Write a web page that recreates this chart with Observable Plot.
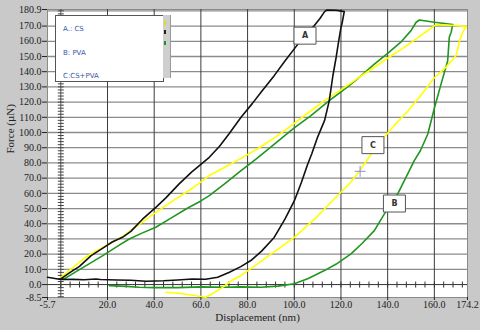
<!DOCTYPE html>
<html><head><meta charset="utf-8">
<script src="https://cdn.jsdelivr.net/npm/d3@7"></script>
<script src="https://cdn.jsdelivr.net/npm/@observablehq/plot@0.6"></script>
<style>
body{margin:0;background:#c9c9c9;}
#wrap{position:relative;width:480px;height:330px;overflow:hidden;}
#legend{position:absolute;left:55px;top:15px;width:107px;height:65px;background:#fff;border:1px solid #555;font:7px "DejaVu Sans",sans-serif;color:#3a55a8;}
#legend div{position:absolute;left:7px;}
#scroll{position:absolute;left:163px;top:15px;width:7px;height:63px;background:#cfcfcf;border-right:1px solid #999;}
#scroll span{position:absolute;left:1px;width:2px;height:4px;}
</style></head>
<body><div id="wrap"></div>
<script>
// Series A: CS (black) — loading, hold, unloading
const csDisp = [0,4,8,13,18,22,26.4,30,35,40.7,45,50.7,56,60,63.6,68,72,77.2,82,86,91.4,96,100,104,108.6,111,113,114,118,121.4,
  120.5,120,119,118,116.5,115,113,110,107.5,105.7,103,100,96,91.4,86,81.4,77.1,72,67.2,62,56.4,50,44,36.4,30,24,17,15,10,5,0,-5.7];
const csForce = [3.7,8,12,19,24,28,31.1,35,43,50.8,57,66.2,74,79,83.7,91,99,110,119,127,137.4,147,155,163,170.3,175,179.5,180.6,180.4,179.5,
  172,169,160,150,137,121,108,97,86,79,67,55,43,31,22,15.8,11.8,8,4.8,3.5,3.7,3,2.5,2.2,2.8,3,3.3,3.7,3.2,3.4,3.3,4.8];

// Series B: PVA (green)
const pvaDisp = [1.4,6,12.1,18,24,29.3,35,40.7,47,54,60,63.6,70,77.2,84,92,100,107,115,122,128,134.3,140,146,150,152.2,153.6,160,167.9,
  167.2,166.4,165.7,162.9,160,157.2,154,151.4,148,144.3,141,138.6,134.3,129,124.3,118,112.9,106,100,93,85.7,77.2,70,60,50,40,33.6,28,20.7];
const pvaForce = [3.7,8,13.6,19,25,30,34,37.7,43.5,50,55,58.5,66,75,83,93,103,111,121,129,136.5,145,152,160,167,172.5,174,172.5,171,
  166,162.6,147,132,116,99,88,81.5,71,59.6,52,46.5,35.5,27,20.2,13.5,9.2,4,0.5,-1,-1.8,-1.5,-1.8,-1.5,-2,-2,-1.8,-1.2,-0.7];

// Series C: CS+PVA (yellow)
const mixDisp = [0,5,10.7,15,20,26.4,33,40.7,48,56,63.6,70,77.2,85,92,100,106,112.9,120,127,134.3,141,148,154,160.7,167,173.6,
  172.2,171,169.3,165,160,154,148.6,143,138.6,133,128.6,124,120,115,110,105,100,95,90,85,80,77.2,73,69.3,65,62,58,52,45];
const mixForce = [4.8,11,18,22,26,31.5,39,47.5,55,63,71.7,77,83,90,97,106,113,121,128,135.5,142.9,150,157,163.5,171,170.5,169.8,
  166,161.5,150.6,143,136,124,114,105,97,86,76,67,60.7,53,45,38,31.1,25.5,20,14.5,9,6,2.5,-1.8,-6,-8.3,-7.3,-6,-5];

// Annotation labels and cursor
const annLabels = ["A","B","C"];
const annDisp = [104.6,142.9,133.7];
const annForce = [163.7,53.3,91.7];
const cursorDisp = [128.2];
const cursorForce = [74.5];

// Axis ticks
const xTicks = [-5.7,20,40,60,80,100,120,140,160,174.2];
const yTicks = [-8.5,0,10,20,30,40,50,60,70,80,90,100,110,120,130,140,150,160,170,180.9];
const xGrid = [20,40,60,80,100,120,140,160];
const yGrid = [10,20,30,40,50,60,70,80,90,100,110,120,130,140,150,160,170,180];
const xMinor = d3.range(0, 174, 4);
const yMinor = d3.range(-8, 181, 2);

const legendItems = ["A.: CS","B: PVA","C:CS+PVA"];

const pts = (xs, ys) => xs.map((x, i) => ({x, y: ys[i]}));
const cs = pts(csDisp, csForce), pva = pts(pvaDisp, pvaForce), mix = pts(mixDisp, mixForce);
const ann = annLabels.map((t, i) => ({t, x: annDisp[i], y: annForce[i]}));
const cursor = pts(cursorDisp, cursorForce);

const vTick = {draw(c, s){ const r = Math.sqrt(s/Math.PI); c.moveTo(0,-r); c.lineTo(0,r); }};
const hTick = {draw(c, s){ const r = Math.sqrt(s/Math.PI); c.moveTo(-r,0); c.lineTo(r,0); }};
const cross = {draw(c, s){ const r = Math.sqrt(s/Math.PI); c.moveTo(-r,0); c.lineTo(r,0); c.moveTo(0,-r); c.lineTo(0,r); }};
const box = {draw(c){ c.rect(-11,-8.5,22,17); }};

const serif = "Liberation Serif, Times New Roman, serif";

const chart = Plot.plot({
  width: 480, height: 330,
  marginLeft: 47, marginRight: 13, marginTop: 9, marginBottom: 33,
  style: {background: "transparent", color: "#222"},
  x: {domain: [-5.7, 174.2]},
  y: {domain: [-8.5, 180.9]},
  marks: [
    Plot.frame({fill: "white", stroke: "#8a8a8a"}),
    Plot.ruleY(yGrid, {stroke: "#8c8c8c", strokeWidth: 1.3}),
    Plot.ruleX(xGrid, {stroke: "#3c3c3c", strokeWidth: 1}),
    Plot.ruleY([0], {stroke: "#333"}),
    Plot.ruleX([0], {stroke: "#555"}),
    Plot.dot(xMinor, {x: d => d, y: () => 0, symbol: vTick, r: 3, stroke: "#333", strokeWidth: 1}),
    Plot.dot(yMinor, {x: () => 0, y: d => d, symbol: hTick, r: 3, stroke: "#444", strokeWidth: 1}),
    Plot.line(pva, {x: "x", y: "y", stroke: "#1f961f", strokeWidth: 1.6}),
    Plot.line(mix, {x: "x", y: "y", stroke: "#ffff00", strokeWidth: 1.6}),
    Plot.line(cs, {x: "x", y: "y", stroke: "#111", strokeWidth: 1.6}),
    Plot.dot(cursor, {x: "x", y: "y", symbol: cross, r: 5.5, stroke: "#8a8af0", strokeWidth: 1}),
    Plot.dot(ann, {x: "x", y: "y", symbol: box, r: 5, fill: "white", stroke: "#555", strokeWidth: 1}),
    Plot.text(ann, {x: "x", y: "y", text: "t", fontSize: 8, fontWeight: "bold", fill: "#333", fontFamily: "DejaVu Sans, sans-serif"}),
    Plot.axisY({ticks: yTicks, tickFormat: d => d.toFixed(1), tickSize: 5, tickPadding: 1, fontSize: 10, fontFamily: serif, label: null}),
    Plot.axisX({ticks: xTicks, tickFormat: d => d.toFixed(1), tickSize: 3, tickPadding: 0, fontSize: 10, fontFamily: serif, label: null}),
    Plot.text(["Displacement (nm)"], {text: d => d, frameAnchor: "bottom", dy: 23, fontSize: 11, fontFamily: serif, fill: "#222"}),
    Plot.text(["Force (µN)"], {text: d => d, frameAnchor: "left", dx: -37, rotate: -90, fontSize: 11, fontFamily: serif, fill: "#222"})
  ]
});

const wrap = document.getElementById("wrap");
wrap.appendChild(chart);
const lg = document.createElement("div");
lg.id = "legend";
legendItems.forEach((t, i) => {
  const d = document.createElement("div");
  d.textContent = t;
  d.style.top = (9 + i * 23.5) + "px";
  lg.appendChild(d);
});
wrap.appendChild(lg);
const sc = document.createElement("div");
sc.id = "scroll";
[["#e0e000",6],["#222",15],["#1f961f",26]].forEach(([c, t]) => {
  const s = document.createElement("span");
  s.style.background = c; s.style.top = t + "px";
  sc.appendChild(s);
});
wrap.appendChild(sc);
</script></body></html>
